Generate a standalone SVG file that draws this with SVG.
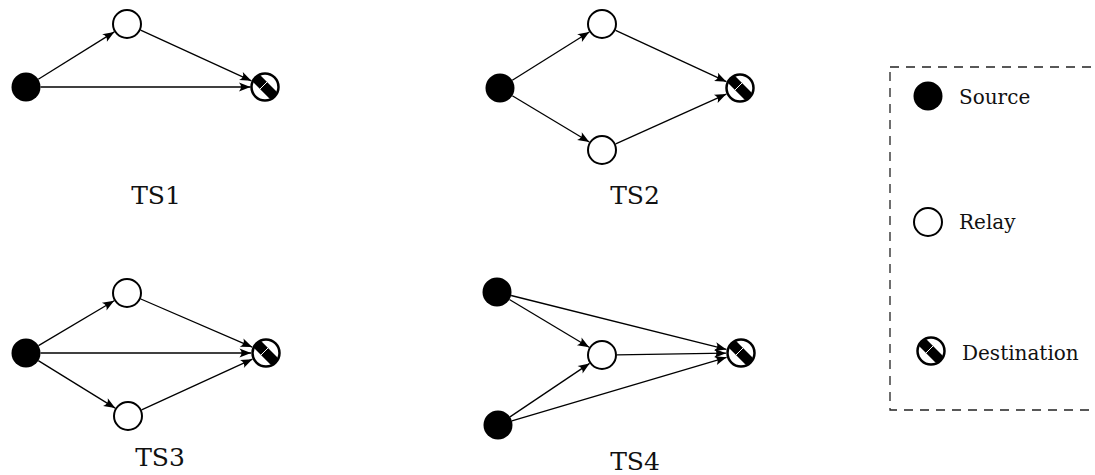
<svg xmlns="http://www.w3.org/2000/svg" width="1095" height="475" viewBox="0 0 1095 475">
  <style>
    .src { fill: #000; }
    .relay { fill: #fff; stroke: #000; stroke-width: 2; }
    .edge { stroke: #000; stroke-width: 1.3; fill: none; marker-end: url(#arrow); }
    .caption { font-family: "DejaVu Serif", serif; font-size: 25px; fill: #111; text-anchor: middle; }
    .legend-text { font-family: "DejaVu Serif", serif; font-size: 20px; fill: #111; }
    .legend-box { fill: none; stroke: #222; stroke-width: 1.3; stroke-dasharray: 9 7; }
  </style>
  <defs>
    <marker id="arrow" viewBox="-12 -5 13 10" refX="0" refY="0" markerWidth="13" markerHeight="10" markerUnits="userSpaceOnUse" orient="auto">
      <path d="M0,0 L-11.5,-4.5 Q-7.5,0 -11.5,4.5 Z" fill="#000"/>
    </marker>
    <clipPath id="destClip">
      <circle cx="0" cy="0" r="13"/>
    </clipPath>
    <!-- destination marker: ringed disc with a dark diagonal band -->
    <g id="dest">
      <circle cx="0" cy="0" r="13.5" fill="#fff"/>
      <g clip-path="url(#destClip)">
        <line x1="-14" y1="-14" x2="14" y2="14" stroke="#000" stroke-width="10"/>
        <line x1="-5.2" y1="2.2" x2="2.2" y2="-5.2" stroke="#fff" stroke-width="1"/>
      </g>
      <circle cx="0" cy="0" r="13.5" fill="none" stroke="#000" stroke-width="2.5"/>
    </g>
  </defs>

  <!-- connectors -->
  <g id="edges">
    <!-- TS1 -->
    <line class="edge" x1="38.3" y1="79.3" x2="114.3" y2="31.9"/>
    <line class="edge" x1="40.5" y1="87" x2="250.5" y2="87"/>
    <line class="edge" x1="140.6" y1="30.2" x2="251.4" y2="80.8"/>
    <!-- TS2 -->
    <line class="edge" x1="512.3" y1="80.3" x2="589.3" y2="32"/>
    <line class="edge" x1="512.3" y1="95.7" x2="589.3" y2="142"/>
    <line class="edge" x1="615.6" y1="30.3" x2="726.4" y2="81.7"/>
    <line class="edge" x1="615.7" y1="143.9" x2="726.3" y2="94.1"/>
    <!-- TS3 -->
    <line class="edge" x1="38.5" y1="345.6" x2="114.1" y2="300.7"/>
    <line class="edge" x1="38.3" y1="360.6" x2="115.2" y2="408.1"/>
    <line class="edge" x1="40.5" y1="353" x2="251" y2="353"/>
    <line class="edge" x1="140.8" y1="299" x2="252.2" y2="347.1"/>
    <line class="edge" x1="141.6" y1="409.8" x2="252.4" y2="359.2"/>
    <!-- TS4 -->
    <line class="edge" x1="509.4" y1="299.5" x2="589.1" y2="347.3"/>
    <line class="edge" x1="510" y1="416.9" x2="589.6" y2="363.4"/>
    <line class="edge" x1="617" y1="354.8" x2="726" y2="353.2"/>
    <line class="edge" x1="511.1" y1="295.5" x2="726.4" y2="349.4"/>
    <line class="edge" x1="511.9" y1="420.9" x2="726.6" y2="357.3"/>
  </g>

  <!-- TS1 -->
  <g id="ts1">
    <circle id="ts1-s" class="src" cx="26" cy="87" r="14.5"/>
    <circle id="ts1-r" class="relay" cx="127" cy="24" r="14"/>
    <use id="ts1-d" href="#dest" x="265" y="87"/>
    <text class="caption" x="156" y="204">TS1</text>
  </g>

  <!-- TS2 -->
  <g id="ts2">
    <circle id="ts2-s" class="src" cx="500" cy="88" r="14.5"/>
    <circle id="ts2-r1" class="relay" cx="602" cy="24" r="14"/>
    <circle id="ts2-r2" class="relay" cx="602" cy="150" r="14"/>
    <use id="ts2-d" href="#dest" x="740" y="88"/>
    <text class="caption" x="635" y="204">TS2</text>
  </g>

  <!-- TS3 -->
  <g id="ts3">
    <circle id="ts3-s" class="src" cx="26" cy="353" r="14.5"/>
    <circle id="ts3-r1" class="relay" cx="127" cy="293" r="14"/>
    <circle id="ts3-r2" class="relay" cx="128" cy="416" r="14"/>
    <use id="ts3-d" href="#dest" x="266" y="353"/>
    <text class="caption" x="160" y="466">TS3</text>
  </g>

  <!-- TS4 -->
  <g id="ts4">
    <circle id="ts4-s1" class="src" cx="497" cy="292" r="14.5"/>
    <circle id="ts4-s2" class="src" cx="498" cy="425" r="14.5"/>
    <circle id="ts4-r" class="relay" cx="602" cy="355" r="14"/>
    <use id="ts4-d" href="#dest" x="741" y="353"/>
    <text class="caption" x="635" y="470">TS4</text>
  </g>

  <!-- legend -->
  <g id="legend">
    <rect class="legend-box" x="890" y="67" width="320" height="343"/>
    <circle class="src" cx="928" cy="96" r="14.5"/>
    <text class="legend-text" x="959" y="104">Source</text>
    <circle class="relay" cx="928" cy="222" r="14"/>
    <text class="legend-text" x="959" y="229">Relay</text>
    <use href="#dest" x="931" y="351"/>
    <text class="legend-text" x="962" y="360">Destination</text>
  </g>
</svg>
